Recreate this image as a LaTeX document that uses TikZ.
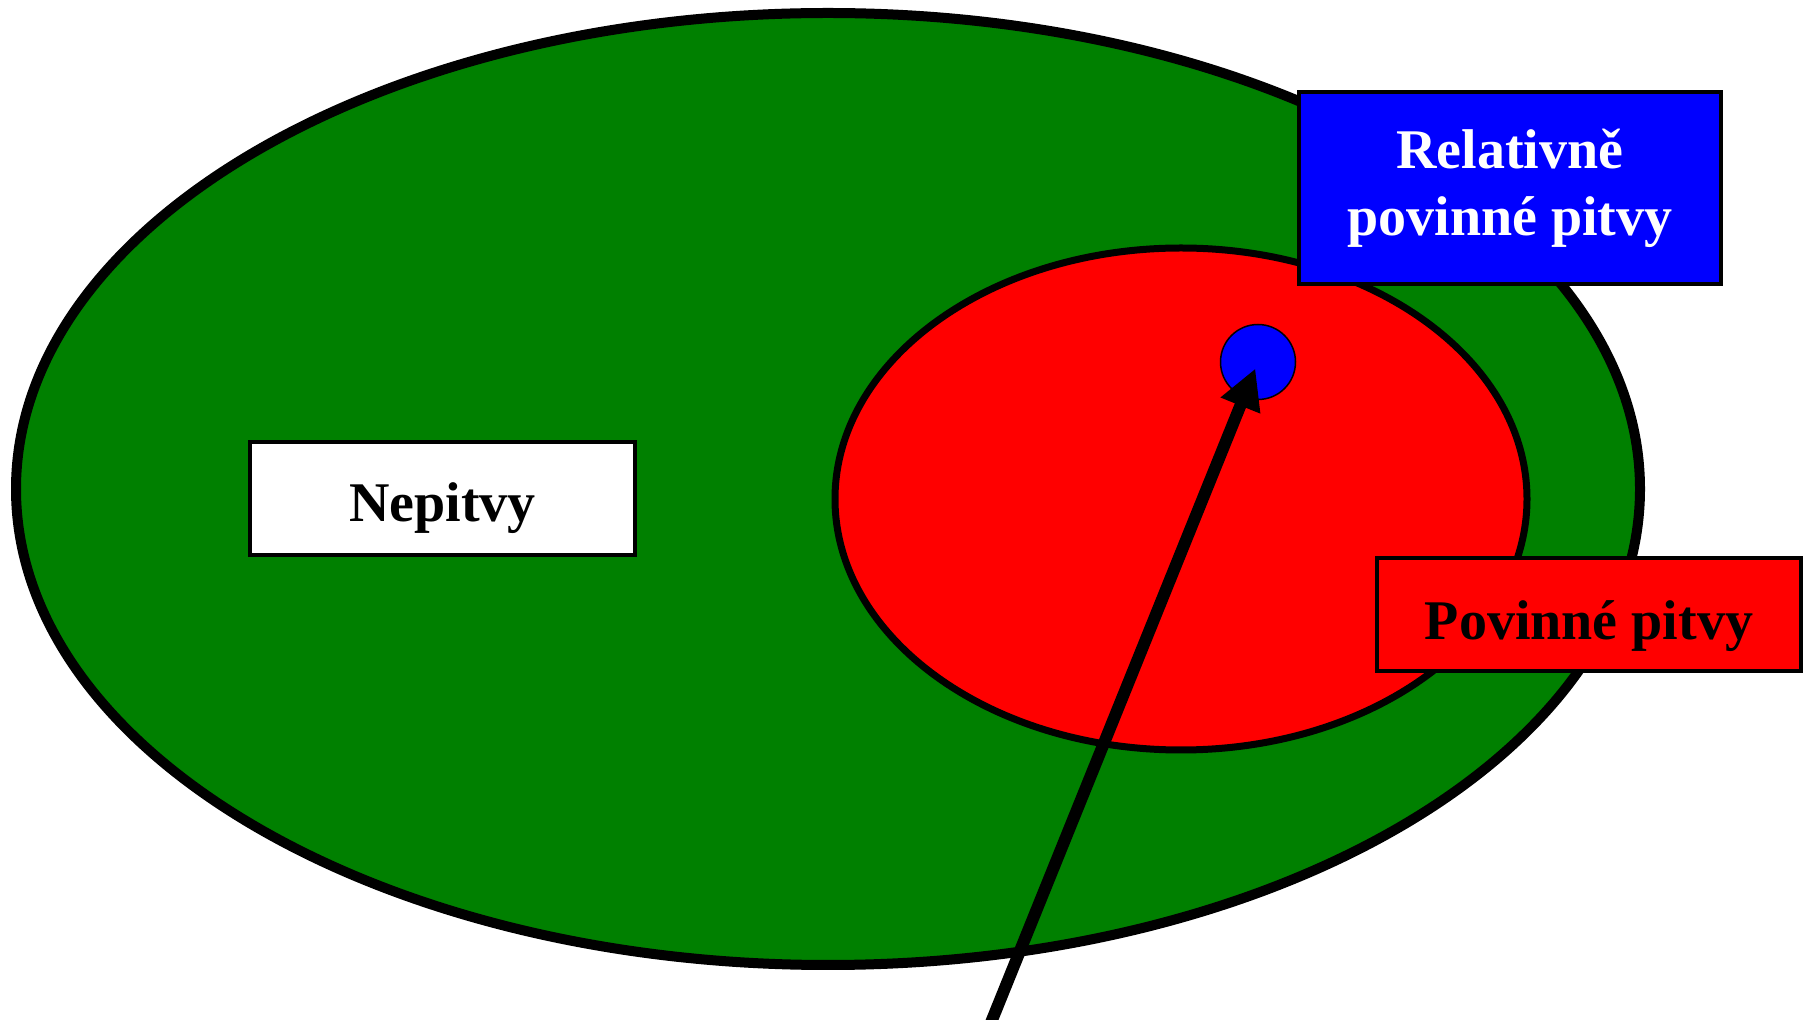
\documentclass[tikz,border=0pt]{standalone}
\usepackage{fontspec}
\setmainfont{Liberation Serif}
\usetikzlibrary{shapes.geometric,arrows.meta}
\definecolor{vgreen}{HTML}{008000}
\definecolor{vred}{HTML}{FF0000}
\definecolor{vblue}{HTML}{0000FF}
\begin{document}
\begin{tikzpicture}[x=0.5pt,y=-0.5pt,
  region/.style={shape=ellipse,draw=black,inner sep=0pt},
  label box/.style={draw=black,line width=2pt,inner sep=0pt,align=center,
    font=\fontsize{28}{33.5}\selectfont\bfseries},
  pointer/.style={line width=6pt,-{Triangle[length=20pt,width=20pt]}}]
\useasboundingbox (0,0) rectangle (1806,1020);
\node[region,fill=vgreen,line width=5pt,minimum width=812pt,minimum height=476pt] (all) at (828,489) {};
\node[region,fill=vred,line width=3.5pt,minimum width=346pt,minimum height=251pt] (mand) at (1181,499) {};
\node[circle,draw=black,fill=vblue,line width=0.75pt,minimum size=37.5pt,inner sep=0pt] (dot) at (1258,362) {};
\node[label box,fill=white,text=black,minimum width=192.5pt,minimum height=56.5pt,text height=23.5pt,text depth=0pt] (nep) at (442.5,498.5) {Nepitvy};
\node[label box,fill=vred,text=black,minimum width=212pt,minimum height=56.5pt,text height=25pt,text depth=0pt] (pov) at (1589,614.5) {Povinné pitvy};
\node[label box,fill=vblue,text=white,minimum width=211pt,minimum height=96pt] (rel) at (1510,188) {Relativně\\povinné pitvy};
\coordinate (src) at (988,1030);
\draw[pointer,shorten >=3.5pt] (src) -- (dot.center);
\end{tikzpicture}
\end{document}
